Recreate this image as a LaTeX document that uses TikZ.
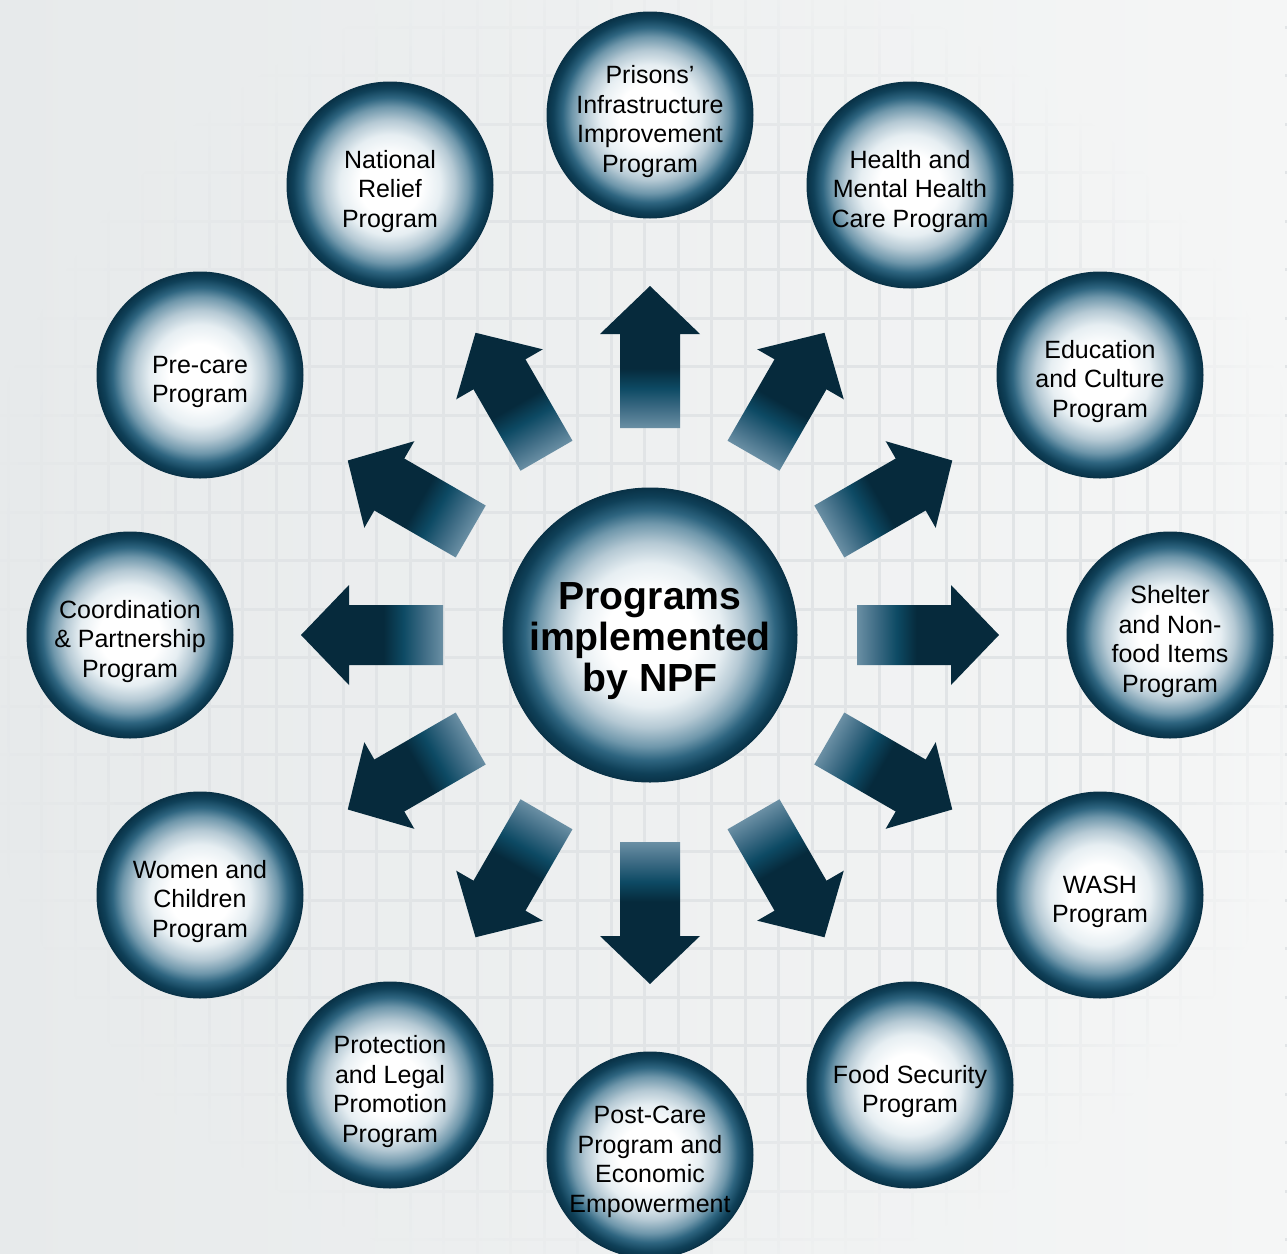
\documentclass[tikz,border=0pt]{standalone}
\usepackage{fontspec}
\setmainfont{Liberation Sans}
\usetikzlibrary{fadings,calc}

\definecolor{bgL}{HTML}{E7EAEB}
\definecolor{bgR}{HTML}{F5F6F6}
\definecolor{gridc}{HTML}{E1E4E6}
\definecolor{adark}{HTML}{062A3C}
\definecolor{amid}{HTML}{0D4A64}
\definecolor{amidb}{HTML}{3D6B84}
\definecolor{atail}{HTML}{6A8FA4}
\definecolor{ba}{HTML}{E6EEF2}
\definecolor{bb}{HTML}{B5C9D4}
\definecolor{bc}{HTML}{6F97AB}
\definecolor{bd}{HTML}{2E6580}
\definecolor{be}{HTML}{0F4058}
\definecolor{bf}{HTML}{093247}

\pgfdeclareradialshading{ballshade}{\pgfpointorigin}{color(0bp)=(white); color(7.5bp)=(white); color(12.25bp)=(ba); color(15.75bp)=(bb); color(19bp)=(bc); color(21.25bp)=(bd); color(23.5bp)=(be); color(25bp)=(bf); color(50bp)=(bf)}
\pgfdeclarehorizontalshading{arrowshade}{100bp}{color(0bp)=(atail); color(25bp)=(atail); color(32bp)=(amidb); color(39bp)=(amid); color(46bp)=(adark); color(100bp)=(adark)}
\pgfdeclareradialshading{edgefadeshade}{\pgfpointorigin}{color(0bp)=(black); color(18bp)=(black); color(26.5bp)=(white); color(50bp)=(white)}
\pgfdeclarefading{edgefade}{\pgfuseshading{edgefadeshade}}

\newcommand{\balltext}[1]{\raisebox{-3.5pt}[\height][\depth]{\begin{tabular}{@{}c@{}}#1\end{tabular}}}

\begin{document}
\begin{tikzpicture}[x=0.5pt,y=-0.5pt,
  ball/.style={circle, shade, shading=ballshade, draw=bf, line width=0.5pt,
    inner sep=0pt, minimum size=103pt,
    font=\fontsize{12.5}{14.8}\selectfont},
  hub/.style={circle, shade, shading=ballshade, draw=bf, line width=0.5pt,
    inner sep=0pt, minimum size=147pt,
    font=\fontsize{19.6}{20.5}\selectfont\bfseries},
  blockarrow/.style={shade, shading=arrowshade},
  gridline/.style={draw=gridc, line width=1.5pt}]

\useasboundingbox (0,0) rectangle (1287,1254);
\shade[left color=bgL, right color=bgR] (0,0) rectangle (1287,1254);
\foreach \i in {0,...,38} \path[gridline] ({8+33.5*\i},0) -- ({8+33.5*\i},1254);
\foreach \j in {0,...,25} \path[gridline] (0,{27+48.5*\j}) -- (1287,{27+48.5*\j});
\shade[left color=bgL, right color=bgR, path fading=edgefade, fit fading=true] (0,0) rectangle (1287,1254);

\node[hub] (c) at (650,635) {\balltext{Programs\\implemented\\by NPF}};

\foreach \a in {0,30,...,330} {
  \begin{scope}[transform canvas={rotate around={\a:(c.center)}}]
    \path[blockarrow] ($(c.center)+(207,-30)$) -- ($(c.center)+(301,-30)$) -- ($(c.center)+(301,-50)$) -- ($(c.center)+(349,0)$) -- ($(c.center)+(301,50)$) -- ($(c.center)+(301,30)$) -- ($(c.center)+(207,30)$) -- cycle;
  \end{scope}
}

\node[ball] (p1) at (650,115) {\balltext{Prisons’\\Infrastructure\\Improvement\\Program}};
\node[ball] (p2) at (390,185) {\balltext{National\\Relief\\Program}};
\node[ball] (p3) at (910,185) {\balltext{Health and\\Mental Health\\Care Program}};
\node[ball] (p4) at (200,375) {\balltext{Pre-care\\Program}};
\node[ball] (p5) at (1100,375) {\balltext{Education\\and Culture\\Program}};
\node[ball] (p6) at (130,635) {\balltext{Coordination\\\& Partnership\\Program}};
\node[ball] (p7) at (1170,635) {\balltext{Shelter\\and Non-\\food Items\\Program}};
\node[ball] (p8) at (200,895) {\balltext{Women and\\Children\\Program}};
\node[ball] (p9) at (1100,895) {\balltext{WASH\\Program}};
\node[ball] (p10) at (390,1085) {\balltext{Protection\\and Legal\\Promotion\\Program}};
\node[ball] (p11) at (910,1085) {\balltext{Food Security\\Program}};
\node[ball] (p12) at (650,1155) {\balltext{Post-Care\\Program and\\Economic\\Empowerment}};
\end{tikzpicture}
\end{document}
